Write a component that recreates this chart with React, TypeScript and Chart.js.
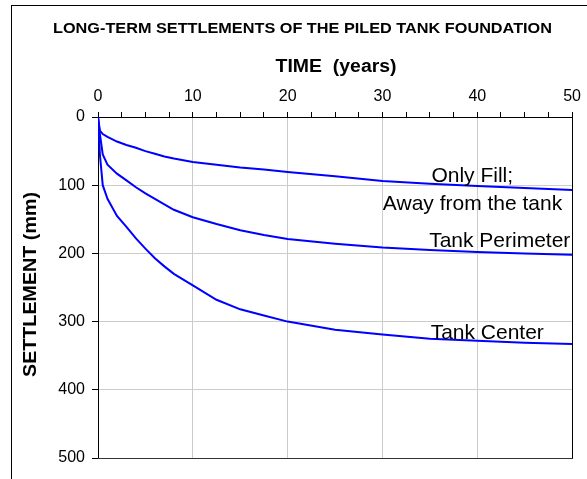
import React, { useEffect, useRef } from "react";
import { Chart, registerables } from "chart.js";

Chart.register(...registerables);

const FONT = "'Liberation Sans', Arial, Helvetica, sans-serif";

// time axis (years)
const timeYears = [0, 0.2, 0.5, 1, 2, 3, 4, 5, 6, 7, 8, 10, 12.5, 15, 17.5, 20, 25, 30, 35, 40, 45, 50];
// settlements (mm)
const onlyFill = [0, 20, 25, 29, 36, 41, 45, 50, 54, 58, 61, 66, 70, 74, 77, 80.5, 87, 94, 98, 101, 104, 107];
const tankPerimeter = [0, 25, 55, 70, 83, 93, 103, 112, 120, 128, 136, 147, 157, 166, 173, 179, 186, 191.5, 195, 198, 200, 202];
const tankCenter = [0, 55, 100, 120, 145, 161, 178, 193, 207, 219, 230, 247, 268, 282, 291, 300, 312, 319, 325, 328, 331, 333];

const xTicks = [0, 2.5, 5, 7.5, 10, 12.5, 15, 17.5, 20, 22.5, 25, 27.5, 30, 32.5, 35, 37.5, 40, 42.5, 45, 47.5, 50];
const xMajor = [0, 10, 20, 30, 40, 50];
const yTicks = [0, 100, 200, 300, 400, 500];

const seriesNames = ["Only Fill", "Tank Perimeter", "Tank Center"];

// text annotations placed in data coordinates (x = centre, y = baseline)
const curveLabels = [
  { text: "Only Fill;", x: 39.47, y: 95.3 },
  { text: "Away from the tank", x: 39.5, y: 136.4 },
  { text: "Tank Perimeter", x: 42.37, y: 190.6 },
  { text: "Tank Center", x: 41.05, y: 325.5 },
];

const TITLE = "LONG-TERM SETTLEMENTS OF THE PILED TANK FOUNDATION";
const X_TITLE = "TIME  (years)";
const Y_TITLE = "SETTLEMENT (mm)";

const toPoints = (ys: number[]) => timeYears.map((t, i) => ({ x: t, y: ys[i] }));

// draw text centred at (x, y-middle) squeezed/stretched to a given width
function fitText(ctx: CanvasRenderingContext2D, text: string, x: number, y: number, w: number) {
  const m = ctx.measureText(text).width;
  ctx.save();
  ctx.translate(x, y);
  ctx.scale(w / m, 1);
  ctx.fillText(text, 0, 0);
  ctx.restore();
}

const decor = {
  id: "decor",
  afterDatasetsDraw(chart: any) {
    const { ctx, chartArea, scales } = chart;
    ctx.save();
    ctx.lineWidth = 1;
    ctx.beginPath();
    ctx.strokeStyle = "#000";
    ctx.moveTo(Math.round(chartArea.right) + 0.5, chartArea.top);
    ctx.lineTo(Math.round(chartArea.right) + 0.5, chartArea.bottom + 0.5);
    ctx.stroke();
    ctx.beginPath();
    ctx.strokeStyle = "#333";
    ctx.moveTo(chartArea.left, Math.round(chartArea.bottom) + 0.5);
    ctx.lineTo(chartArea.right + 1, Math.round(chartArea.bottom) + 0.5);
    ctx.stroke();

    ctx.fillStyle = "#000";
    ctx.font = `21px ${FONT}`;
    ctx.textAlign = "center";
    ctx.textBaseline = "alphabetic";
    curveLabels.forEach((l) => {
      ctx.fillText(l.text, scales.x.getPixelForValue(l.x), scales.y.getPixelForValue(l.y));
    });
    ctx.restore();
  },
  afterDraw(chart: any) {
    const { ctx, chartArea } = chart;
    ctx.save();
    ctx.strokeStyle = "#000";
    ctx.lineWidth = 1;
    ctx.strokeRect(11.5, 5.5, 800, 800);
    ctx.fillStyle = "#000";
    ctx.textAlign = "center";
    ctx.textBaseline = "middle";
    ctx.font = `bold 15px ${FONT}`;
    fitText(ctx, TITLE, 302.5, 28.5, 499);
    ctx.font = `bold 18px ${FONT}`;
    fitText(ctx, X_TITLE, (chartArea.left + chartArea.right) / 2 + 1, 67.5, 121);
    ctx.save();
    ctx.translate(31, 284.5);
    ctx.rotate(-Math.PI / 2);
    fitText(ctx, Y_TITLE, 0, 0, 185);
    ctx.restore();
    ctx.restore();
  },
};

export default function App() {
  const ref = useRef<HTMLCanvasElement | null>(null);
  useEffect(() => {
    if (!ref.current) return;
    const mk = (ys: number[], i: number) => ({
      label: seriesNames[i],
      data: toPoints(ys),
      showLine: true,
      borderColor: "#0000ff",
      backgroundColor: "#0000ff",
      borderWidth: 2,
      pointRadius: 0,
      tension: 0,
      fill: false,
    });
    const chart = new Chart(ref.current, {
      type: "scatter",
      data: {
        datasets: [mk(onlyFill, 0), mk(tankPerimeter, 1), mk(tankCenter, 2)],
      },
      options: {
        animation: false,
        responsive: false,
        events: [],
        layout: { padding: { left: 0, top: 77, right: 14, bottom: 21 } },
        plugins: {
          legend: { display: false },
          tooltip: { enabled: false },
          title: { display: false },
        },
        scales: {
          x: {
            type: "linear",
            position: "top",
            min: 0,
            max: 50,
            afterBuildTicks: (s: any) => {
              s.ticks = xTicks.map((v) => ({ value: v }));
            },
            afterFit: (s: any) => {
              s.height = 40;
            },
            ticks: {
              autoSkip: false,
              maxRotation: 0,
              padding: 6,
              color: "#000",
              font: { size: 16, family: FONT },
              callback: (v: any) => (xMajor.includes(Number(v)) ? String(v) : ""),
            },
            grid: {
              color: (c: any) => (c.tick && xMajor.includes(c.tick.value) ? "#cccccc" : "rgba(0,0,0,0)"),
              tickColor: "#000",
              tickLength: 5,
              drawTicks: true,
            },
            border: { color: "#000", width: 1 },
          },
          y: {
            type: "linear",
            reverse: true,
            min: 0,
            max: 500,
            afterBuildTicks: (s: any) => {
              s.ticks = yTicks.map((v) => ({ value: v }));
            },
            afterFit: (s: any) => {
              s.width = 98;
            },
            ticks: {
              padding: 7,
              color: "#000",
              font: { size: 16, family: FONT },
            },
            grid: {
              color: "#cccccc",
              tickColor: "#000",
              tickLength: 6,
            },
            border: { color: "#000", width: 1 },
          },
        },
      },
      plugins: [decor],
    });
    return () => chart.destroy();
  }, []);
  return (
    <div style={{ position: "absolute", left: 0, top: 0, width: 587, height: 479, background: "#fff" }}>
      <canvas ref={ref} width={587} height={479} />
    </div>
  );
}
